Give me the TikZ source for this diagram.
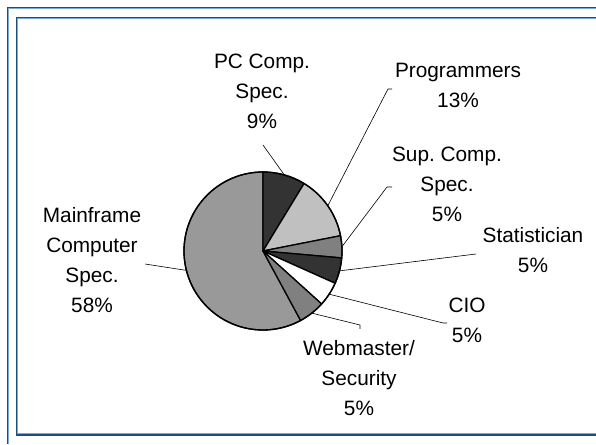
\documentclass[tikz,border=0pt]{standalone}
\usepackage{fontspec}
\setmainfont{Liberation Sans}
\usetikzlibrary{calc}
\frenchspacing
\definecolor{framedark}{HTML}{1F4E79}
\definecolor{framelight}{HTML}{7DA7D9}
\definecolor{sliceblack}{HTML}{333333}
\definecolor{slicelight}{HTML}{C0C0C0}
\definecolor{slicemid}{HTML}{808080}
\definecolor{slicemain}{HTML}{999999}
\newcommand\pieslice[3]{%
  \filldraw[slice, fill=#3] (c) -- ($(c)+(#1:\rad)$) arc[start angle=#1, end angle=#2, radius=\rad] -- cycle;}
\begin{document}
\begin{tikzpicture}[x=1pt,y=1pt,
  slice/.style={draw=black, line width=1.3pt, line join=round},
  leader/.style={draw=black, line width=0.6pt},
  lbl/.style={align=center, anchor=base, inner sep=0pt, font=\fontsize{20.8}{30}\selectfont},
  framemain/.style={draw=framedark, line width=1.2pt},
  frameshade/.style={draw=framelight, line width=0.9pt},
]
\useasboundingbox (0,0) rectangle (596,444);

% double frame
\draw[framemain] (7.5,0) -- (7.5,436.4) -- (596,436.4);
\draw[frameshade] (8.7,0) -- (8.7,435.2) -- (596,435.2);
\draw[framemain] (596,426.5) -- (16.5,426.5) -- (16.5,9) -- (596,9);
\draw[frameshade] (596,425.3) -- (17.7,425.3) -- (17.7,10.2) -- (596,10.2);

% pie
\coordinate (c) at (263,193);
\def\rad{79pt}
\pieslice{90}{298.44}{slicemain}
\pieslice{58.68}{90}{sliceblack}
\pieslice{11.16}{58.68}{slicelight}
\pieslice{-5.04}{11.16}{slicemid}
\pieslice{-24.12}{-5.04}{sliceblack}
\pieslice{-42.12}{-24.12}{white}
\pieslice{-61.56}{-42.12}{slicemid}
\draw[slice] (c) circle[radius=\rad];

% labels (anchored at the baseline of their last line)
\node[lbl] (pc)   at (262,315) {PC Comp.\\Spec.\\9\%};
\node[lbl] (prog) at (458,336) {Programmers\\13\%};
\node[lbl] (sup)  at (447,222) {Sup. Comp.\\Spec.\\5\%};
\node[lbl] (stat) at (533,171) {Statistician\\5\%};
\node[lbl] (cio)  at (467,101) {CIO\\5\%};
\node[lbl] (web)  at (359,29)  {Webmaster/\\Security\\5\%};
\node[lbl] (main) at (92,131)  {Mainframe\\Computer\\Spec.\\58\%};

% leader lines
\coordinate (pcA)   at ($(c)+(74.34:\rad)$);
\coordinate (progA) at ($(c)+(34.92:\rad)$);
\coordinate (supA)  at ($(c)+(3.06:\rad)$);
\coordinate (statA) at ($(c)+(-14.58:\rad)$);
\coordinate (cioA)  at ($(c)+(-33.12:\rad)$);
\coordinate (webA)  at ($(c)+(-51.84:\rad)$);
\coordinate (mainA) at ($(c)+(194.22:\rad)$);
\coordinate (pcB)   at (263,299);
\coordinate (progB) at (388,355);
\coordinate (progC) at (392,355);
\coordinate (supB)  at (387,257);
\coordinate (supC)  at (392,257);
\coordinate (statB) at (476,190);
\coordinate (cioB)  at (443,121);
\coordinate (cioC)  at (447,121);
\coordinate (webB)  at (360,119);
\coordinate (webC)  at (360,115);
\coordinate (mainB) at (145,180);
\draw[leader] (pcA) -- (pcB);
\draw[leader] (progA) -- (progB) -- (progC);
\draw[leader] (supA) -- (supB) -- (supC);
\draw[leader] (statA) -- (statB);
\draw[leader] (cioA) -- (cioB) -- (cioC);
\draw[leader] (webA) -- (webB) -- (webC);
\draw[leader] (mainA) -- (mainB);
\end{tikzpicture}
\end{document}
